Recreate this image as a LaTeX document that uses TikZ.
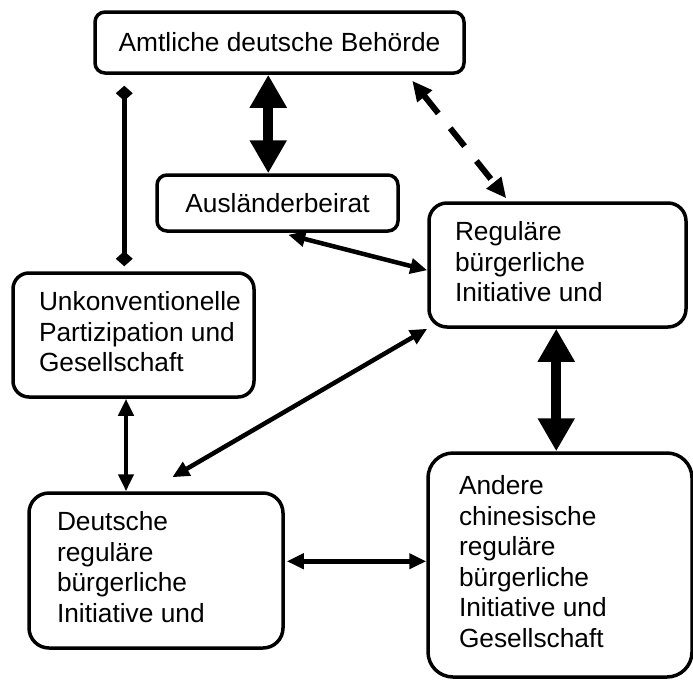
\documentclass[tikz,border=0pt]{standalone}
\usepackage{fontspec}
\setmainfont{Liberation Sans}
\usetikzlibrary{arrows.meta,calc}
\newcommand\txtlines[2]{\raisebox{-2.5pt}{\makebox[#1][l]{\begin{tabular}{@{}l@{}}#2\end{tabular}}}}
\begin{document}
\begin{tikzpicture}[x=1pt,y=-1pt,
  box/.style={draw,line width=3.5pt,rounded corners=#1,inner ysep=0pt,
    font=\fontsize{26.3}{30.5}\selectfont},
  thin2/.style={line width=4.5pt,{Triangle[length=17pt,width=15pt]}-{Triangle[length=17pt,width=15pt]}},
  thick2/.style={line width=10pt,{Triangle[length=33pt,width=35pt]}-{Triangle[length=33pt,width=35pt]}},
  diam2/.style={line width=4.5pt,{Diamond[length=15pt,width=17pt]}-{Diamond[length=15pt,width=17pt]}},
  dash2/.style={line width=6pt,dash pattern=on 23pt off 19pt,{Triangle[length=20pt,width=18pt]}-{Triangle[length=20pt,width=18pt]}}
]
\useasboundingbox (0,0) rectangle (693,680);
\node[box=10pt,minimum width=369pt,minimum height=61pt] (b1) at (279.5,42.5) {Amtliche deutsche Behörde};
\node[box=10pt,minimum width=241pt,minimum height=56pt] (b2) at (277.5,203) {Ausländerbeirat};
\node[box=18pt,inner xsep=26pt,minimum width=257pt,minimum height=124pt] (b3) at (557.5,265) {\txtlines{205pt}{Reguläre\\bürgerliche\\Initiative und}};
\node[box=16pt,inner xsep=26pt,minimum width=241pt,minimum height=124pt] (b4) at (133.5,335) {\txtlines{189pt}{Unkonventionelle\\Partizipation und\\Gesellschaft}};
\node[box=20pt,inner xsep=28pt,minimum width=254pt,minimum height=155pt] (b5) at (156,570.5) {\txtlines{198pt}{Deutsche\\reguläre\\bürgerliche\\Initiative und}};
\node[box=25pt,inner xsep=31pt,minimum width=264pt,minimum height=224pt] (b6) at (560,565) {\txtlines{202pt}{Andere\\chinesische\\reguläre\\bürgerliche\\Initiative und\\Gesellschaft}};

\draw[diam2] ($(b1.south west)+(31,11)$) -- ($(b4.north west)+(113,-5)$);
\draw[thick2] ($(b1.south west)+(175,0)$) -- ($(b2.north west)+(113,0)$);
\draw[dash2] ($(b1.south west)+(319,6)$) -- ($(b3.north west)+(79,-3)$);
\draw[thin2] ($(b2.south west)+(133,2)$) -- ($(b3.north west)+(0,69)$);
\draw[thin2] (b4.south west -| 126,0) -- (b5.north west -| 126,0);
\draw[thin2] (b3.south west) -- ($(b5.north west)+(145,-14)$);
\draw[thin2] ($(b5.north east)+(2,70)$) -- ($(b6.north west)+(0,110)$);
\draw[thick2] ($(b3.south west)+(129,0)$) -- ($(b6.north west)+(130,0)$);
\end{tikzpicture}
\end{document}
